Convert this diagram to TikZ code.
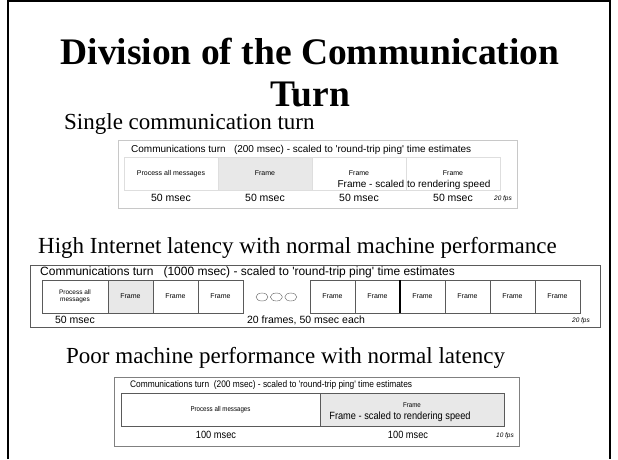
\documentclass[tikz,border=0pt]{standalone}
\usepackage{fontspec}
\setmainfont{Liberation Serif}
\newfontfamily\arial{Liberation Sans}
\newfontfamily\narrow[FakeStretch=0.88]{Liberation Sans}
\usetikzlibrary{positioning, shapes.geometric}
\definecolor{framegray}{HTML}{E8E8E8}
\definecolor{palegray}{HTML}{C8C8C8}
\definecolor{edgegray}{HTML}{5A5A5A}
\newcommand{\fsz}[1]{\fontsize{#1}{#1}\selectfont}

\begin{document}
\begin{tikzpicture}[x=1pt, y=-1pt,
  heading/.style={anchor=base west, inner sep=0pt, font=\fsz{23}},
  panel/.style={draw=#1, line width=0.8pt, anchor=north west, inner sep=0pt},
  cell/.style={draw=#1, minimum height=33pt, inner sep=0pt, outer sep=0pt, anchor=north west},
  lbl/.style={inner sep=0pt, font=\arial\fsz{10.5}},
  fps/.style={inner sep=0pt, font=\arial\itshape\fsz{6.5}},
  dots/.style={ellipse, draw=edgegray, minimum width=12pt, minimum height=8pt, inner sep=0pt}
]
  \useasboundingbox (0,0) rectangle (618,459);
  % slide frame
  \draw[line width=1.1pt] (8,459) -- (8,1) -- (610,1) -- (610,459);

  % title and headings
  \node[anchor=base, inner sep=0pt, font=\bfseries\fsz{37.5}] (ttl) at (310,64) {Division of the Communication};
  \node[anchor=base, inner sep=0pt, font=\bfseries\fsz{37.5}] (ttl2) at (310,106) {Turn};
  \node[heading] (hSingle) at (64,129) {Single communication turn};
  \node[heading] (hLatency) at (38,253) {High Internet latency with normal machine performance};
  \node[heading] (hPoor) at (66,363) {Poor machine performance with normal latency};

  % single communication turn
  \node[panel=palegray, minimum width=399pt, minimum height=68pt] (single) at (118,140) {};
  \node[anchor=base west, inner sep=0pt, font=\arial\fsz{10}] (sTitle) at (131,152)
    {Communications turn \ \ (200 msec) - scaled to 'round-trip ping' time estimates};
  \node[cell=palegray!60, minimum width=94pt, font=\arial\fsz{7}] (s1) at (124,157) {Process all messages};
  \node[cell=palegray!60, minimum width=94pt, fill=framegray, right=0pt of s1, font=\arial\fsz{7}] (s2) {Frame};
  \node[cell=palegray!60, minimum width=94pt, right=0pt of s2, font=\arial\fsz{7}] (s3) {Frame};
  \node[cell=palegray!60, minimum width=94pt, right=0pt of s3, font=\arial\fsz{7}] (s4) {Frame};
  \node[inner sep=0pt, font=\arial\fsz{10}] (sNote) at (414,185) {Frame - scaled to rendering speed};
  \foreach \c in {1,...,4}
    \node[lbl] (sMs\c) at ([yshift=-8pt]s\c.south) {50 msec};
  \node[fps] (sFps) at (503,199) {20 fps};

  % high latency
  \node[panel=edgegray, minimum width=570pt, minimum height=62pt] (latency) at (30,265) {};
  \node[anchor=base west, inner sep=0pt, font=\arial\fsz{12}] (lTitle) at (40,275)
    {Communications turn \ \ (1000 msec) - scaled to 'round-trip ping' time estimates};
  \node[cell=edgegray, minimum width=66pt, font=\arial\fsz{6.5}, align=center] (l0) at (42,280) {Process all\\messages};
  \node[cell=edgegray, minimum width=45pt, fill=framegray, right=0pt of l0, font=\arial\fsz{7}] (l1) {Frame};
  \node[cell=edgegray, minimum width=45pt, right=0pt of l1, font=\arial\fsz{7}] (l2) {Frame};
  \node[cell=edgegray, minimum width=45pt, right=0pt of l2, font=\arial\fsz{7}] (l3) {Frame};
  \node[dots] (o1) at (262,297) {};
  \node[dots, right=2pt of o1] (o2) {};
  \node[dots, right=2pt of o2] (o3) {};
  \node[cell=edgegray, minimum width=45pt, font=\arial\fsz{7}] (r1) at (310,280) {Frame};
  \foreach \i [remember=\i as \j (initially 1)] in {2,...,6}
    \node[cell=edgegray, minimum width=45pt, right=0pt of r\j, font=\arial\fsz{7}] (r\i) {Frame};
  \draw[line width=1.2pt] (r2.north east) -- (r2.south east);
  \node[lbl] (lMs) at (75,320) {50 msec};
  \node[lbl] (lEach) at (306,320) {20 frames, 50 msec each};
  \node[fps] (lFps) at (581,321) {20 fps};

  % poor machine performance
  \node[panel=gray, minimum width=405pt, minimum height=69pt] (poor) at (114,377) {};
  \node[anchor=base west, inner sep=0pt, font=\narrow\fsz{9.5}] (pTitle) at (130,387)
    {Communications turn \ (200 msec) - scaled to 'round-trip ping' time estimates};
  \node[cell=edgegray, minimum width=199pt, font=\narrow\fsz{7}] (p1) at (121,393) {Process all messages};
  \node[cell=edgegray, minimum width=184pt, fill=framegray, right=0pt of p1, font=\narrow\fsz{7}] (p2) {\raisebox{8pt}{Frame}};
  \node[inner sep=0pt, font=\narrow\fsz{10.5}] (pNote) at (400,417) {Frame - scaled to rendering speed};
  \node[lbl, font=\narrow\fsz{10.5}] (pMs1) at (216,435) {100 msec};
  \node[lbl, font=\narrow\fsz{10.5}] (pMs2) at (408,435) {100 msec};
  \node[fps] (pFps) at (505,436) {10 fps};
\end{tikzpicture}
\end{document}
